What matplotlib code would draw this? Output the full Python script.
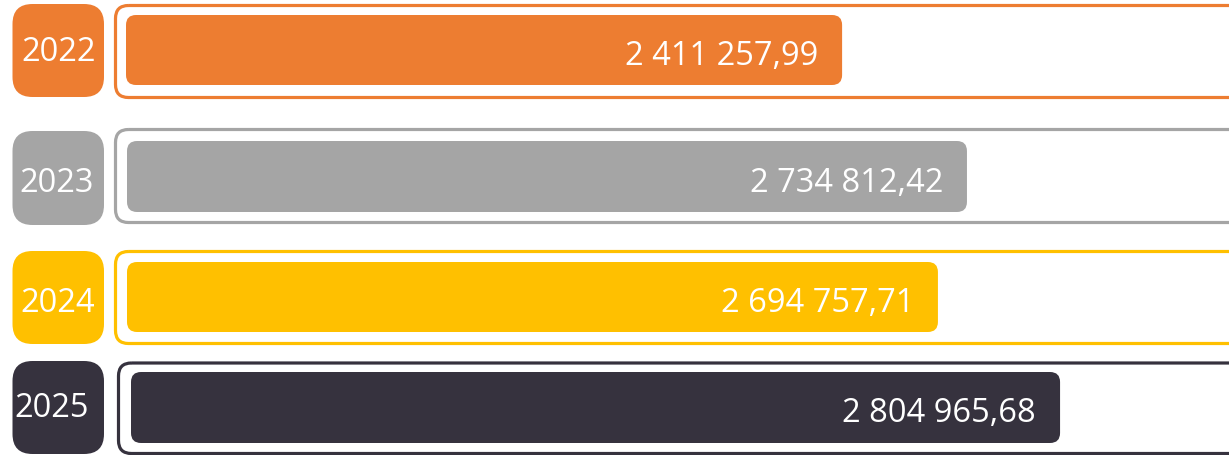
import matplotlib.pyplot as plt
from matplotlib.patches import FancyBboxPatch
from matplotlib.transforms import blended_transform_factory, offset_copy

# --- data ---
years = ["2022", "2023", "2024", "2025"]
values = [2411257.99, 2734812.42, 2694757.71, 2804965.68]
colors = ["#ED7D31", "#A5A5A5", "#FFC000", "#36323E"]

# --- layout (pixels, figure 1229 x 456) ---
W, H = 1229, 456
label_box = [(5, 98), (132, 226), (252, 345), (362, 455)]
label_text_xy = [(59, 61), (57, 192), (57.5, 312), (52, 417)]
frame_x = [115.5, 115.5, 115.5, 118.5]
frame_y = [(6.5, 98.5), (130.5, 223.5), (252.5, 344.5), (364, 454.5)]
bar_x = [126, 127, 127, 131]
bar_y = [(16, 86), (142, 213), (263, 333), (373, 444)]
value_base = [65, 192, 312, 422]
axis_max = [3.714e6, 3.588e6, 3.662e6, 3.315e6]

plt.rcParams['font.family'] = ['Open Sans', 'DejaVu Sans']

fig = plt.figure(figsize=(W / 100, H / 100), dpi=100)
ax = fig.add_axes([0, 0, 1, 1])
ax.set_xlim(0, W)
ax.set_ylim(H, 0)
ax.axis("off")


def fmt(v):
    return f"{v:,.2f}".replace(",", " ").replace(".", ",")


for i, year in enumerate(years):
    c = colors[i]

    # year badge
    y0, y1 = label_box[i]
    ax.add_patch(FancyBboxPatch((12.5, y0), 91.5, y1 - y0,
                                boxstyle="round,pad=0,rounding_size=20",
                                fc=c, ec="none"))
    tx, ty = label_text_xy[i]
    ax.text(tx, ty, year, color="white", fontsize=23.5, ha="center", va="baseline")

    # outline frame (runs past right edge)
    fy0, fy1 = frame_y[i]
    ax.add_patch(FancyBboxPatch((frame_x[i], fy0), W + 20 - frame_x[i], fy1 - fy0,
                                boxstyle="round,pad=0,rounding_size=13",
                                fc="none", ec=c, lw=2.3))

    # bar in its own value axis
    bx = bar_x[i]
    by0, by1 = bar_y[i]
    w_px = W - bx
    h_px = by1 - by0
    rax = fig.add_axes([bx / W, 1 - by1 / H, w_px / W, h_px / H])
    rax.set_xlim(0, axis_max[i])
    rax.set_ylim(0, 1)
    rax.axis("off")
    r_px = 10
    rax.add_patch(FancyBboxPatch((0, 0), values[i], 1,
                                 boxstyle=f"round,pad=0,rounding_size={r_px * axis_max[i] / w_px}",
                                 mutation_aspect=w_px / (h_px * axis_max[i]),
                                 fc=c, ec="none", clip_on=False))

    trans = blended_transform_factory(rax.transData, ax.transData)
    trans = offset_copy(trans, fig=fig, x=-24, y=0, units="dots")
    rax.text(values[i], value_base[i], fmt(values[i]), transform=trans,
             color="white", fontsize=23.5, ha="right", va="baseline", clip_on=False)

fig.savefig("out.png", dpi=100)
